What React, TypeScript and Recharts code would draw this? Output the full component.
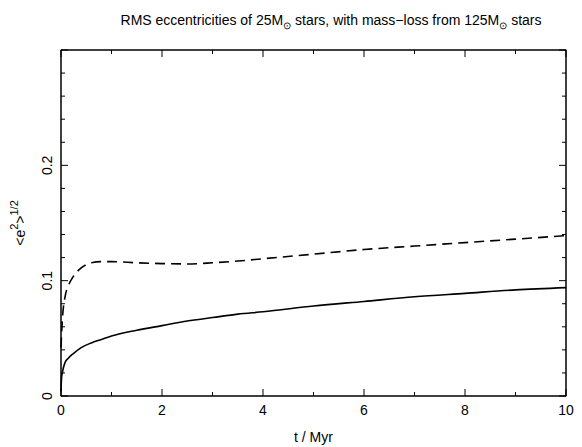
import { LineChart, Line, XAxis, YAxis, ReferenceLine } from 'recharts'

// time in Myr
const T_MYR = [0, 0.01, 0.03, 0.08, 0.15, 0.25, 0.4, 0.6, 0.8, 1, 1.5, 2, 2.5, 3, 3.5, 4, 5, 6, 7, 8, 9, 10]

// RMS eccentricity, solid curve
const E_SOLID = [
  0.004, 0.015, 0.021, 0.029, 0.033, 0.037, 0.042, 0.046, 0.049, 0.052, 0.057, 0.061, 0.065, 0.068,
  0.071, 0.073, 0.078, 0.082, 0.086, 0.089, 0.092, 0.094,
]

// RMS eccentricity, dashed curve
const E_DASHED = [
  0.042, 0.052, 0.068, 0.086, 0.096, 0.104, 0.111, 0.1155, 0.1165, 0.1165, 0.1155, 0.1148, 0.1145,
  0.1155, 0.117, 0.119, 0.123, 0.127, 0.13, 0.133, 0.136, 0.139,
]

const X_TICKS = [0, 1, 2, 3, 4, 5, 6, 7, 8, 9, 10]
const Y_TICKS = [0, 0.02, 0.04, 0.06, 0.08, 0.1, 0.12, 0.14, 0.16, 0.18, 0.2, 0.22, 0.24, 0.26, 0.28, 0.3]
const X_MAX = 10
const Y_MAX = 0.3

const data = T_MYR.map((t, i) => ({ t, solid: E_SOLID[i], dashed: E_DASHED[i] }))

const FONT = 'Liberation Sans, Arial, sans-serif'
const W = 582
const H = 447
const MARGIN = { top: 50, right: 16, left: 0, bottom: 0 }
const Y_AXIS_W = 61
const X_AXIS_H = 51
const PLOT_W = W - MARGIN.right - Y_AXIS_W
const PLOT_H = H - MARGIN.top - X_AXIS_H
const MAJOR = 7
const MINOR = 4

const isMajorX = (v: number) => v % 2 === 0
const isMajorY = (v: number) => Math.round(v * 100) % 10 === 0

const BottomTick = ({ x, y, payload }: any) => {
  const v = payload.value
  const len = isMajorX(v) ? MAJOR : MINOR
  return (
    <g>
      <line x1={x} x2={x} y1={y} y2={y - len} stroke="#000" strokeWidth={1} />
      {isMajorX(v) && (
        <text x={x} y={y + 19} textAnchor="middle" fontSize={14} fontFamily={FONT} fill="#000">
          {v}
        </text>
      )}
    </g>
  )
}

const LeftTick = ({ x, y, payload }: any) => {
  const v = payload.value
  const major = isMajorY(v)
  const len = major ? MAJOR : MINOR
  const lx = x - 14
  return (
    <g>
      <line x1={x} x2={x + len} y1={y} y2={y} stroke="#000" strokeWidth={1} />
      {major && v < 0.29 && (
        <text
          x={lx}
          y={y}
          transform={`rotate(-90, ${lx}, ${y})`}
          textAnchor="middle"
          dominantBaseline="central"
          fontSize={14}
          fontFamily={FONT}
          fill="#000"
        >
          {v === 0 ? '0' : v.toFixed(1)}
        </text>
      )}
    </g>
  )
}

const XLabel = ({ viewBox }: any) => (
  <g>
    <text
      x={viewBox.x + viewBox.width / 2}
      y={viewBox.y + 46}
      textAnchor="middle"
      fontSize={14}
      fontFamily={FONT}
      fill="#000"
    >
      t / Myr
    </text>
    <text x={331} y={25} textAnchor="middle" fontSize={14} fontFamily={FONT} fill="#000">
      RMS eccentricities of 25M
      <tspan dy={4} fontSize={10}>⊙</tspan>
      <tspan dy={-4}> stars, with mass−loss from 125M</tspan>
      <tspan dy={4} fontSize={10}>⊙</tspan>
      <tspan dy={-4}> stars</tspan>
    </text>
  </g>
)

const YLabel = ({ viewBox }: any) => {
  const cx = 25
  const cy = viewBox.y + viewBox.height / 2
  return (
    <text
      x={cx}
      y={cy}
      transform={`rotate(-90, ${cx}, ${cy})`}
      textAnchor="middle"
      fontSize={14}
      fontFamily={FONT}
      fill="#000"
    >
      {'<e'}
      <tspan dy={-7} fontSize={11}>2</tspan>
      <tspan dy={7}>{'>'}</tspan>
      <tspan dy={-7} fontSize={11}>1/2</tspan>
    </text>
  )
}

// top/right half of the box with inward ticks, laid over the chart
function FrameOverlay() {
  const left = Y_AXIS_W
  const top = MARGIN.top
  const right = left + PLOT_W
  const bottom = top + PLOT_H
  return (
    <svg
      width={W}
      height={H}
      style={{ position: 'absolute', left: 0, top: 0, pointerEvents: 'none' }}
    >
      <rect x={left} y={top} width={PLOT_W} height={PLOT_H} fill="none" stroke="#000" strokeWidth={1} />
      {X_TICKS.map((v) => {
        const x = left + (v / X_MAX) * PLOT_W
        const len = isMajorX(v) ? MAJOR : MINOR
        return <line key={`t${v}`} x1={x} x2={x} y1={top} y2={top + len} stroke="#000" strokeWidth={1} />
      })}
      {Y_TICKS.map((v) => {
        const y = bottom - (v / Y_MAX) * PLOT_H
        const len = isMajorY(v) ? MAJOR : MINOR
        return <line key={`r${v}`} x1={right} x2={right - len} y1={y} y2={y} stroke="#000" strokeWidth={1} />
      })}
    </svg>
  )
}

export default function App() {
  return (
    <div style={{ position: 'absolute', left: 0, top: 0, width: W, height: H, background: '#fff' }}>
      <LineChart width={W} height={H} data={data} margin={MARGIN}>
        <XAxis
          dataKey="t"
          type="number"
          domain={[0, X_MAX]}
          ticks={X_TICKS}
          interval={0}
          height={X_AXIS_H}
          tickSize={0}
          tickMargin={0}
          tickLine={false}
          axisLine={{ stroke: '#000', strokeWidth: 1 }}
          tick={<BottomTick />}
          label={<XLabel />}
        />
        <YAxis
          type="number"
          domain={[0, Y_MAX]}
          ticks={Y_TICKS}
          interval={0}
          width={Y_AXIS_W}
          tickSize={0}
          tickMargin={0}
          tickLine={false}
          axisLine={{ stroke: '#000', strokeWidth: 1 }}
          tick={<LeftTick />}
          label={<YLabel />}
        />
        <ReferenceLine y={Y_MAX} stroke="#000" strokeWidth={1} />
        <ReferenceLine x={X_MAX} stroke="#000" strokeWidth={1} />
        <Line
          dataKey="solid"
          type="monotone"
          stroke="#000"
          strokeWidth={1.6}
          dot={false}
          isAnimationActive={false}
        />
        <Line
          dataKey="dashed"
          type="monotone"
          stroke="#000"
          strokeWidth={1.6}
          strokeDasharray="10 6"
          dot={false}
          isAnimationActive={false}
        />
      </LineChart>
      <FrameOverlay />
    </div>
  )
}
